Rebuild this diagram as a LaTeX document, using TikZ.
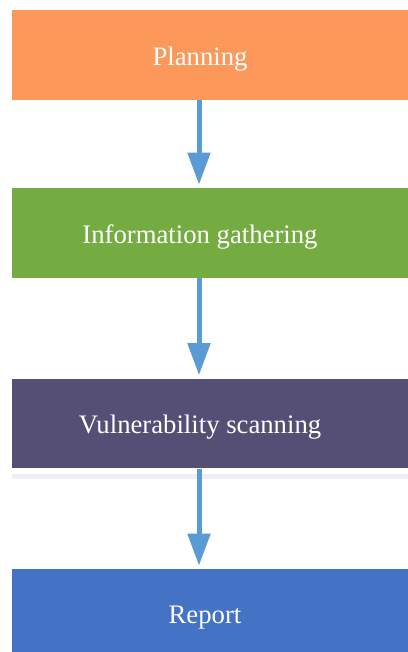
\documentclass[tikz,border=0pt]{standalone}
\usepackage{fontspec}
\setmainfont{Liberation Serif}
\usetikzlibrary{arrows.meta}
\definecolor{planc}{RGB}{252,153,90}
\definecolor{infoc}{RGB}{117,172,66}
\definecolor{vulnc}{RGB}{85,78,117}
\definecolor{repc}{RGB}{68,114,196}
\definecolor{flowc}{RGB}{91,155,213}
\definecolor{shadec}{RGB}{238,239,243}
\tikzset{
  box/.style={minimum width=8.32cm,minimum height=1.8cm,inner sep=0pt},
  lbl/.style={text=white,font=\fontsize{15.2}{18}\selectfont,xshift=-0.4cm,yshift=-0.08cm},
  flow/.style={-{Triangle[width=0.44cm,length=0.64cm]},line width=0.1cm,flowc,shorten >=0.06cm}
}
\begin{document}
\begin{tikzpicture}[x=0.02cm,y=-0.02cm]
  \useasboundingbox(0,0)rectangle(408,652);
  \clip(0,0)rectangle(408,652);
  \fill[shadec](12,474)rectangle(408,478.5);
  \node[box,fill=planc,label={[lbl]center:Planning}](plan)at(220,55){};
  \node[box,fill=infoc,label={[lbl]center:Information gathering}](info)at(220,233){};
  \node[box,fill=vulnc,label={[lbl]center:Vulnerability scanning}](vuln)at(220,423.5){};
  \node[box,fill=repc,label={[lbl,xshift=0.1cm]center:Report}](report)at(220,614){};
  % arrows sit a little left of the box centres
  \draw[flow]([xshift=-0.42cm]plan.south)--([xshift=-0.42cm]info.north);
  \draw[flow]([xshift=-0.42cm]info.south)--([xshift=-0.42cm]vuln.north);
  \draw[flow]([xshift=-0.42cm]vuln.south)--([xshift=-0.42cm]report.north);
\end{tikzpicture}
\end{document}
